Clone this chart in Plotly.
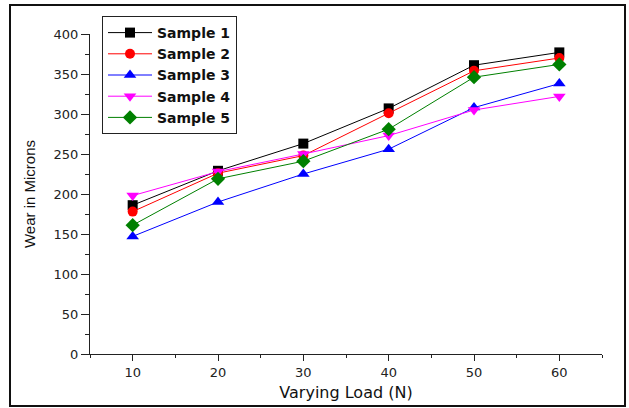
import plotly.graph_objects as go

loads = [10, 20, 30, 40, 50, 60]
sample1 = [186, 229, 263, 307, 361, 377]
sample2 = [178, 226, 248, 301, 354, 370]
sample3 = [147, 190, 225, 256, 308, 338]
sample4 = [198, 228, 250, 273, 305, 322]
sample5 = [161, 219, 241, 281, 346, 362]

names = ["Sample 1", "Sample 2", "Sample 3", "Sample 4", "Sample 5"]
series = [sample1, sample2, sample3, sample4, sample5]
colors = ["#000000", "#FF0000", "#0000FF", "#FF00FF", "#008000"]
symbols = ["square", "circle", "triangle-up", "triangle-down", "diamond"]
sizes = [10, 10, 11, 11, 11]

fig = go.Figure()
for n, s, c, sym, sz in zip(names, series, colors, symbols, sizes):
    fig.add_trace(go.Scatter(
        x=loads, y=s, name=n, mode="lines+markers",
        line=dict(color=c, width=1),
        marker=dict(symbol=sym, size=sz, color=c, line=dict(width=0)),
    ))

W, H = 629, 408
L, R, T, B = 90, 27, 34, 54
pw, ph = W - L - R, H - T - B

fig.update_layout(
    width=W, height=H,
    margin=dict(l=L, r=R, t=T, b=B, autoexpand=False),
    paper_bgcolor="white", plot_bgcolor="white",
    font=dict(family="DejaVu Sans", color="#222222"),
    showlegend=True,
    legend=dict(
        x=(102 - L) / pw, y=(H - B - 16) / ph, xanchor="left", yanchor="top",
        bordercolor="#222222", borderwidth=1, bgcolor="white",
        font=dict(family="DejaVu Sans", size=14, color="#111111", weight="bold"),
        tracegroupgap=0, itemsizing="trace", itemwidth=44,
    ),
    xaxis=dict(
        range=[5, 65], tickvals=loads, showgrid=False, zeroline=False,
        showline=True, linecolor="#222222", linewidth=1, automargin=False,
        ticks="outside", ticklen=6, tickcolor="#222222",
        minor=dict(tickvals=[5, 15, 25, 35, 45, 55, 65], ticks="outside", ticklen=3, tickcolor="#222222"),
        tickfont=dict(size=13, color="#222222"),
        title=dict(text="Varying Load (N)", font=dict(size=16, color="#111111"), standoff=8),
    ),
    yaxis=dict(
        range=[0, 400], tickvals=[0, 50, 100, 150, 200, 250, 300, 350, 400],
        showgrid=False, zeroline=False, automargin=False,
        showline=True, linecolor="#222222", linewidth=1,
        ticks="outside", ticklen=8, tickcolor="#222222",
        minor=dict(tickvals=[25, 75, 125, 175, 225, 275, 325, 375], ticks="outside", ticklen=4, tickcolor="#222222"),
        tickfont=dict(size=13, color="#222222"),
        title=dict(text="Wear in Microns", font=dict(family="Liberation Sans", size=15, color="#111111"), standoff=14),
    ),
    shapes=[dict(
        type="rect", xref="paper", yref="paper",
        x0=(10 - L) / pw, x1=(625 - L) / pw,
        y0=(H - B - 406) / ph, y1=(H - B - 5) / ph,
        line=dict(color="#111111", width=2), fillcolor="rgba(0,0,0,0)", layer="below",
    )],
)

fig.write_html("out.html", config={"displayModeBar": False},
               post_script="document.body.style.margin='0';document.body.style.overflow='hidden';")
